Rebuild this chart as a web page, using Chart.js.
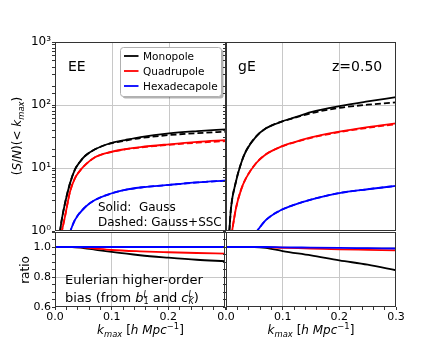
<!DOCTYPE html>
<html>
<head>
<meta charset="utf-8">
<script src="https://cdn.jsdelivr.net/npm/chart.js@4.4.1/dist/chart.umd.min.js"></script>
<style>
  html, body { margin: 0; padding: 0; background: #fff; }
  #fig { position: relative; width: 440px; height: 352px; overflow: hidden;
         font-family: 'DejaVu Sans', sans-serif; color: #000; }
  #fig canvas { position: absolute; }
  .txt { position: absolute; white-space: pre; line-height: 1; }
  .rot { position: absolute; white-space: pre; line-height: 1;
         transform: translate(-50%, -50%) rotate(-90deg); }
  .ctr { transform: translateX(-50%); }
  sub, sup { font-size: 70%; line-height: 0; }
  .ss { display: inline-block; font-size: 62%; line-height: 0.95; vertical-align: -0.3em; }
  .ss span { display: block; }
</style>
</head>
<body>
<div id="fig">
  <canvas id="cEE" width="226" height="246" style="left:0;top:0"></canvas>
  <canvas id="cGE" width="224" height="246" style="left:216px;top:0"></canvas>
  <canvas id="rEE" width="226" height="136" style="left:0;top:216px"></canvas>
  <canvas id="rGE" width="224" height="136" style="left:216px;top:216px"></canvas>

  <div class="txt" style="left:68px;top:59px;font-size:14px">EE</div>
  <div class="txt" style="left:238px;top:59px;font-size:14px">gE</div>
  <div class="txt" style="left:332px;top:59px;font-size:14px">z=0.50</div>
  <div class="txt" style="left:98px;top:200.5px;font-size:12px">Solid:  Gauss</div>
  <div class="txt" style="left:98px;top:215.5px;font-size:12px">Dashed: Gauss+SSC</div>
  <div class="txt" style="left:65px;top:273px;font-size:13px">Eulerian higher-order</div>
  <div class="txt" style="left:65px;top:290.5px;font-size:13px">bias (from <i>b</i><span class="ss"><span><i>L</i></span><span>1</span></span> and <i>c</i><span class="ss"><span><i>L</i></span><span><i>K</i></span></span>)</div>

  <div class="rot" style="left:17px;top:136px;font-size:12px">(<i>S</i>/<i>N</i>)(&lt; <i>k</i><sub><i>max</i></sub>)</div>
  <div class="rot" style="left:25px;top:270px;font-size:12px">ratio</div>
  <div class="txt ctr" style="left:140.5px;top:324px;font-size:12px"><i>k</i><sub><i>max</i></sub> [<i>h</i> <i>Mpc</i><sup>−1</sup>]</div>
  <div class="txt ctr" style="left:311px;top:324px;font-size:12px"><i>k</i><sub><i>max</i></sub> [<i>h</i> <i>Mpc</i><sup>−1</sup>]</div>
</div>

<script>
/* ===== DATA ===== */

// EE panel: cumulative S/N, solid = Gauss, _SSC = Gauss+SSC (dashed)
const K_EE_MONO = [0.0085, 0.0118, 0.0175, 0.0263, 0.0351, 0.0439, 0.0526, 0.0702, 0.0965, 0.123, 0.15, 0.2, 0.25, 0.3];
const SN_EE_MONO = [0.95, 1.5, 2.75, 5.7, 9.5, 12.6, 15.5, 19.8, 24.7, 27.8, 31, 35.5, 38.5, 41];
const SN_EE_MONO_SSC = [0.95, 1.5, 2.75, 5.7, 9.5, 12.6, 15.5, 19.8, 24.4, 27.2, 29.8, 33.3, 35.8, 37.7];

const K_EE_QUAD = [0.011, 0.0175, 0.0263, 0.0351, 0.0439, 0.0526, 0.0702, 0.0965, 0.123, 0.15, 0.2, 0.25, 0.3];
const SN_EE_QUAD = [0.9, 1.69, 4.2, 6.9, 9.1, 11.1, 14.8, 17.8, 19.9, 21.5, 23.8, 26, 27.8];
const SN_EE_QUAD_SSC = [0.9, 1.69, 4.2, 6.9, 9.1, 11.1, 14.8, 17.7, 19.7, 21.2, 23.3, 25.2, 26.7];

const K_EE_HEX = [0.025, 0.035, 0.053, 0.07, 0.097, 0.123, 0.15, 0.2, 0.25, 0.3];
const SN_EE_HEX = [0.9, 1.5, 2.4, 3.1, 3.9, 4.5, 4.9, 5.4, 5.9, 6.3];
const SN_EE_HEX_SSC = [0.9, 1.5, 2.4, 3.1, 3.9, 4.5, 4.9, 5.4, 5.9, 6.3];

// gE panel
const K_GE_MONO = [0.0059, 0.0088, 0.0176, 0.0265, 0.0353, 0.053, 0.0706, 0.097, 0.12, 0.15, 0.2, 0.25, 0.3];
const SN_GE_MONO = [1.0, 2.3, 6.1, 11.8, 18.6, 31.5, 42.7, 54, 63, 77, 96, 114, 133];
const SN_GE_MONO_SSC = [1.0, 2.3, 6.1, 11.8, 18.6, 31.5, 42.7, 54, 62, 74, 90, 101, 110];

const K_GE_QUAD = [0.0095, 0.0176, 0.0265, 0.0353, 0.053, 0.0706, 0.097, 0.12, 0.15, 0.2, 0.25, 0.3];
const SN_GE_QUAD = [0.85, 2.3, 4.5, 6.9, 11.9, 16.5, 21.8, 25.6, 30.5, 37.7, 44.5, 51];
const SN_GE_QUAD_SSC = [0.85, 2.3, 4.5, 6.9, 11.9, 16.5, 21.7, 25.4, 30.1, 37, 43.5, 49.5];

const K_GE_HEX = [0.051, 0.0706, 0.097, 0.12, 0.15, 0.2, 0.25, 0.3];
const SN_GE_HEX = [0.9, 1.5, 2.15, 2.6, 3.15, 4.0, 4.6, 5.2];
const SN_GE_HEX_SSC = [0.9, 1.5, 2.15, 2.6, 3.15, 4.0, 4.6, 5.2];

// ratio panels (Eulerian higher-order bias)
const K_RATIO = [0, 0.03, 0.05, 0.07, 0.1, 0.15, 0.2, 0.25, 0.3];
const RATIO_EE_MONO = [1, 1, 0.993, 0.983, 0.967, 0.945, 0.929, 0.915, 0.905];
const RATIO_EE_QUAD = [1, 1, 0.997, 0.99, 0.98, 0.971, 0.965, 0.96, 0.956];
const RATIO_EE_HEX = [1, 1, 1, 1, 1, 1, 1, 1, 1];
const RATIO_GE_MONO = [1, 1, 1, 0.994, 0.973, 0.944, 0.911, 0.882, 0.845];
const RATIO_GE_QUAD = [1, 1, 1, 0.999, 0.995, 0.99, 0.984, 0.981, 0.978];
const RATIO_GE_HEX = [1, 1, 1, 1, 0.998, 0.996, 0.994, 0.992, 0.99];

const LEGEND_LABELS = ['Monopole', 'Quadrupole', 'Hexadecapole'];
const COLORS = ['#000000', '#ff0000', '#0000ff'];
const POW_LABELS = { 1: '10⁰', 10: '10¹', 100: '10²', 1000: '10³' };

/* ===== HELPERS ===== */

const GRID = '#c8c8c8';
const TICK = '#333333';

Chart.defaults.font.family = "'DejaVu Sans', sans-serif";
Chart.defaults.color = '#000';

const isTenth = v => Math.abs(v * 10 - Math.round(v * 10)) < 1e-6;
const isFifth = v => Math.abs(v * 5 - Math.round(v * 5)) < 1e-6;
const isPow10 = v => Math.abs(Math.log10(v) - Math.round(Math.log10(v))) < 1e-9;

function lineSet(xs, ys, color, dashed) {
    return {
        data: xs.map((x, i) => ({ x: x, y: ys[i] })),
        borderColor: color,
        borderWidth: 1.8,
        borderDash: dashed ? [6, 3] : [],
        pointRadius: 0,
        cubicInterpolationMode: 'monotone',
        fill: false
    };
}

function xScale(showLabels, hideLast, height) {
    return {
        type: 'linear', min: 0, max: 0.3,
        border: { display: false },
        grid: {
            color: c => (c.tick && isTenth(c.tick.value) && c.tick.value > 0.01 && c.tick.value < 0.29) ? GRID : 'transparent',
            drawTicks: showLabels, tickLength: 3, tickColor: TICK
        },
        ticks: {
            display: showLabels, stepSize: 0.02, autoSkip: false, maxRotation: 0, padding: 1,
            font: { size: 11 },
            callback: v => (isTenth(v) && !(hideLast && v > 0.29)) ? v.toFixed(1) : ''
        },
        afterFit: s => { s.height = height; }
    };
}

function yLog(showLabels, width) {
    return {
        type: 'logarithmic', min: 1, max: 1000,
        border: { display: false },
        grid: {
            color: c => (c.tick && isPow10(c.tick.value) && c.tick.value > 1 && c.tick.value < 1000) ? GRID : 'transparent',
            tickLength: 3, tickColor: TICK
        },
        ticks: {
            autoSkip: false, padding: 1, font: { size: 12 },
            callback: v => showLabels ? (POW_LABELS[v] || '') : ''
        },
        afterFit: s => { s.width = width; }
    };
}

function yRatio(showLabels, width) {
    return {
        type: 'linear', min: 0.6, max: 1.1,
        border: { display: false },
        grid: {
            color: c => (c.tick && isFifth(c.tick.value) && c.tick.value > 0.61) ? GRID : 'transparent',
            tickLength: 3, tickColor: TICK
        },
        ticks: {
            stepSize: 0.05, autoSkip: false, padding: 1, font: { size: 11 },
            callback: v => (showLabels && isFifth(v)) ? v.toFixed(1) : ''
        },
        afterFit: s => { s.width = width; }
    };
}

// black frame round each panel
const framePlugin = {
    id: 'frame',
    afterDraw(chart) {
        const { ctx, chartArea: a } = chart;
        ctx.save();
        ctx.strokeStyle = TICK;
        ctx.lineWidth = 1;
        ctx.strokeRect(a.left + 0.5, a.top + 0.5, a.right - a.left - 1, a.bottom - a.top - 1);
        ctx.restore();
    }
};

// legend box inside the EE panel
const boxLegend = {
    id: 'boxLegend',
    afterDraw(chart) {
        const ctx = chart.ctx;
        const x = 120.5, y = 47.5, w = 101, h = 49;
        ctx.save();
        ctx.fillStyle = 'rgba(0,0,0,0.3)';
        ctx.beginPath(); ctx.roundRect(x + 2, y + 2, w, h, 3); ctx.fill();
        ctx.fillStyle = '#fff';
        ctx.strokeStyle = '#b0b0b0';
        ctx.beginPath(); ctx.roundRect(x, y, w, h, 3); ctx.fill(); ctx.stroke();
        ctx.font = "10.5px 'DejaVu Sans'";
        ctx.textBaseline = 'alphabetic';
        LEGEND_LABELS.forEach((label, i) => {
            const ly = 56 + i * 15;
            ctx.strokeStyle = COLORS[i];
            ctx.lineWidth = 1.8;
            ctx.beginPath(); ctx.moveTo(124, ly); ctx.lineTo(138.5, ly); ctx.stroke();
            ctx.fillStyle = '#000';
            ctx.fillText(label, 143, ly + 3.5);
        });
        ctx.restore();
    }
};

function makePanel(id, datasets, x, y, padding, extra) {
    return new Chart(document.getElementById(id), {
        type: 'line',
        data: { datasets: datasets },
        options: {
            responsive: false,
            animation: false,
            layout: { padding: padding },
            plugins: { legend: { display: false }, tooltip: { enabled: false } },
            scales: { x: x, y: y }
        },
        plugins: [framePlugin].concat(extra || [])
    });
}

/* ===== PANELS ===== */
// first dataset is drawn on top, so blue/dashed come first

makePanel('cEE', [
    lineSet(K_EE_HEX, SN_EE_HEX_SSC, COLORS[2], true),
    lineSet(K_EE_HEX, SN_EE_HEX, COLORS[2], false),
    lineSet(K_EE_QUAD, SN_EE_QUAD_SSC, COLORS[1], true),
    lineSet(K_EE_QUAD, SN_EE_QUAD, COLORS[1], false),
    lineSet(K_EE_MONO, SN_EE_MONO_SSC, COLORS[0], true),
    lineSet(K_EE_MONO, SN_EE_MONO, COLORS[0], false)
], xScale(false, false, 0), yLog(true, 55), { top: 42, bottom: 15, left: 0, right: 0 }, [boxLegend]);

makePanel('cGE', [
    lineSet(K_GE_HEX, SN_GE_HEX_SSC, COLORS[2], true),
    lineSet(K_GE_HEX, SN_GE_HEX, COLORS[2], false),
    lineSet(K_GE_QUAD, SN_GE_QUAD_SSC, COLORS[1], true),
    lineSet(K_GE_QUAD, SN_GE_QUAD, COLORS[1], false),
    lineSet(K_GE_MONO, SN_GE_MONO_SSC, COLORS[0], true),
    lineSet(K_GE_MONO, SN_GE_MONO, COLORS[0], false)
], xScale(false, false, 0), yLog(false, 10), { top: 42, bottom: 15, left: 0, right: 44 });

makePanel('rEE', [
    lineSet(K_RATIO, RATIO_EE_HEX, COLORS[2], false),
    lineSet(K_RATIO, RATIO_EE_QUAD, COLORS[1], false),
    lineSet(K_RATIO, RATIO_EE_MONO, COLORS[0], false)
], xScale(true, true, 45), yRatio(true, 55), { top: 16, bottom: 0, left: 0, right: 0 });

makePanel('rGE', [
    lineSet(K_RATIO, RATIO_GE_HEX, COLORS[2], false),
    lineSet(K_RATIO, RATIO_GE_QUAD, COLORS[1], false),
    lineSet(K_RATIO, RATIO_GE_MONO, COLORS[0], false)
], xScale(true, false, 45), yRatio(false, 10), { top: 16, bottom: 0, left: 0, right: 44 });
</script>
</body>
</html>
